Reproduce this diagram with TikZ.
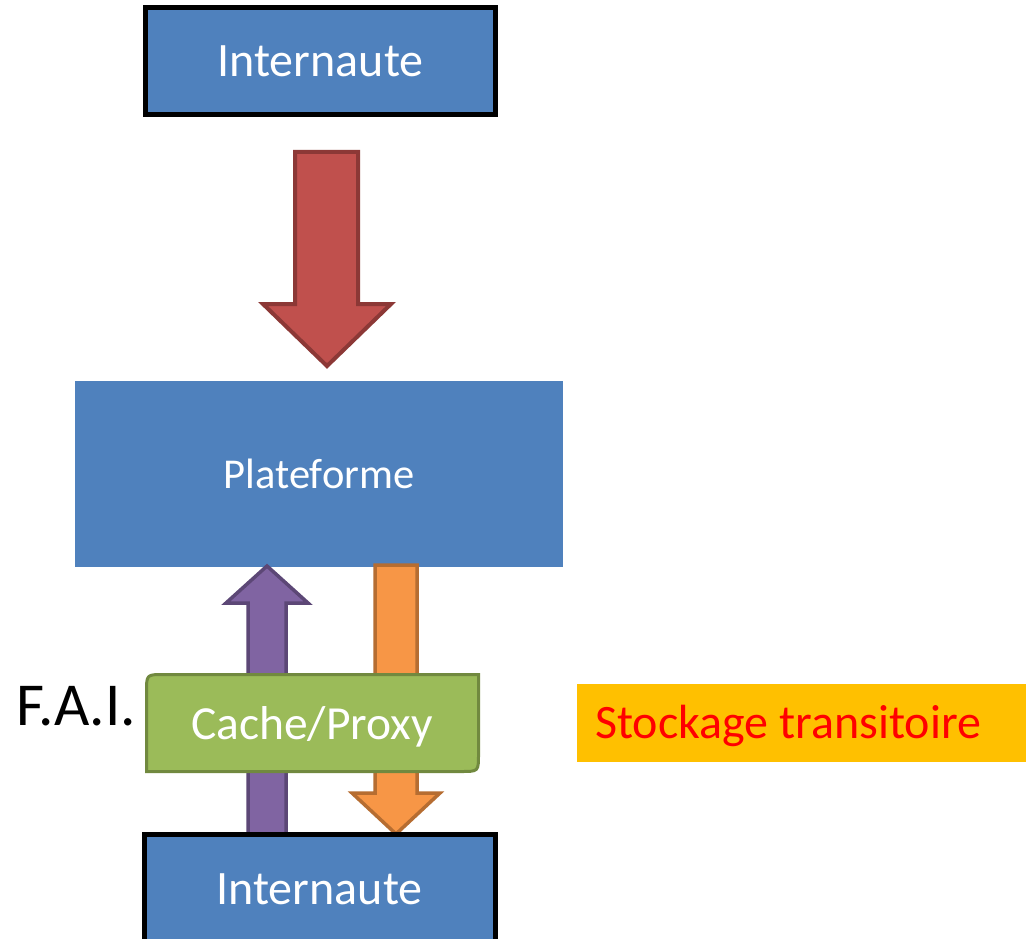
\documentclass[tikz,border=0pt]{standalone}
\usepackage{fontspec}
\setmainfont{Carlito}
\definecolor{boxblue}{HTML}{4F81BD}
\definecolor{redfill}{HTML}{C0504D}
\definecolor{reddraw}{HTML}{8C3836}
\definecolor{purplefill}{HTML}{8064A2}
\definecolor{purpledraw}{HTML}{5C4776}
\definecolor{orangefill}{HTML}{F79646}
\definecolor{orangedraw}{HTML}{B66D31}
\definecolor{greenfill}{HTML}{9BBB59}
\definecolor{greendraw}{HTML}{71893F}
\definecolor{yellowfill}{HTML}{FFC000}
\definecolor{textred}{HTML}{FF0000}
\begin{document}
\begin{tikzpicture}[x=1pt,y=-1pt,
  userbox/.style={fill=boxblue,draw=black,line width=5pt,inner sep=0pt,text=white,
    font=\fontsize{48}{57}\selectfont},
  platbox/.style={fill=boxblue,inner sep=0pt,text=white,font=\fontsize{42.5}{51}\selectfont},
  blockarrow/.style={line width=4pt,line join=miter},
  lbl/.style={inner sep=0pt}]
\useasboundingbox (0,0) rectangle (1026,939);
\clip (0,0) rectangle (1026,939);
\fill[white] (0,0) rectangle (1026,939);
% top user
\node[userbox,minimum width=350pt,minimum height=107pt] (top) at (320.5,61) {Internaute};
% platform
\node[platbox,minimum width=488pt,minimum height=186pt] (plat) at (319,474) {Plateforme};
% red arrow
\draw[blockarrow,fill=redfill,draw=reddraw]
  (295,152) -- (358,152) -- (358,304) -- (391,304) -- (327,366) -- (263,304) -- (295,304) -- cycle;
% purple up arrow
\draw[blockarrow,line width=3.5pt,fill=purplefill,draw=purpledraw]
  (248,845) -- (248,603) -- (226,603) -- (267,566) -- (308,603) -- (286,603) -- (286,845) -- cycle;
% orange down arrow
\draw[blockarrow,line width=3.5pt,fill=orangefill,draw=orangedraw]
  (375,565) -- (417,565) -- (417,793) -- (440,793) -- (396,834) -- (352,793) -- (375,793) -- cycle;
% cache / proxy
\draw[line width=3pt,fill=greenfill,draw=greendraw]
  (146.5,771.5) -- (146.5,692) .. controls (146.5,674.5) .. (164,674.5)
  -- (478.5,674.5) -- (478.5,754) .. controls (478.5,771.5) .. (461,771.5) -- cycle;
\node[lbl,text=white,font=\fontsize{47.5}{57}\selectfont] (cache) at (312,727) {Cache/Proxy};
\node[lbl,font=\fontsize{61}{73}\selectfont] (fai) at (76,706) {F.A.I.};
% bottom user
\node[userbox,minimum width=351pt,minimum height=110pt] (bottom) at (319.5,889.5) {Internaute};
% storage label
\node[fill=yellowfill,minimum width=449pt,minimum height=78pt,inner sep=0pt] (stockbox) at (801.5,723) {};
\node[lbl,anchor=west,text=textred,font=\fontsize{48}{57}\selectfont] (stock) at (595,726) {Stockage transitoire};
\end{tikzpicture}
\end{document}
